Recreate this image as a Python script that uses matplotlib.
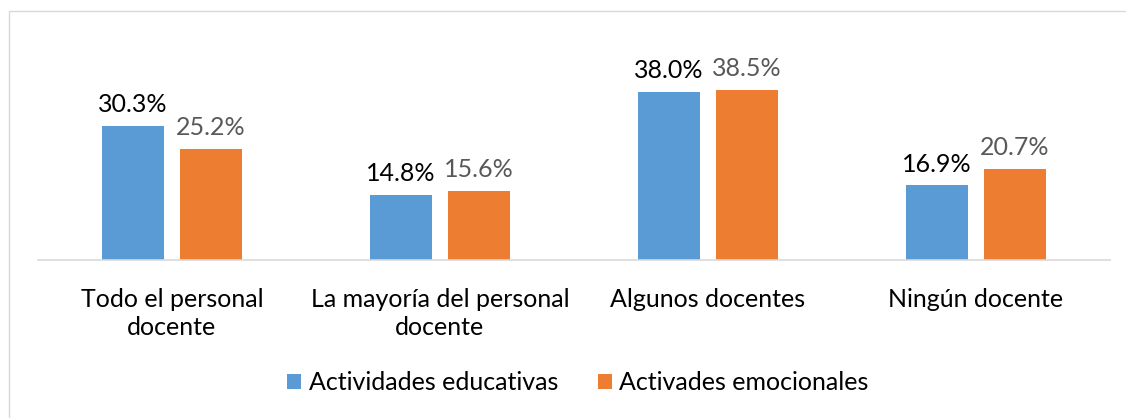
import matplotlib.pyplot as plt
import numpy as np
from matplotlib.patches import Rectangle

categorias = ['Todo el personal\ndocente', 'La mayoría del personal\ndocente',
              'Algunos docentes', 'Ningún docente']
educativas = [30.3, 14.8, 38.0, 16.9]
emocionales = [25.2, 15.6, 38.5, 20.7]
series = ['Actividades educativas', 'Activades emocionales']

plt.rcParams['font.family'] = ['Lato', 'DejaVu Sans']
fs = 18

fig = plt.figure(figsize=(11.26, 4.18), dpi=100)
# thin frame around the chart
fig.patches.append(Rectangle((9 / 1126, -0.01), 1.2, 1 - 11 / 418 + 0.01,
                             transform=fig.transFigure, fill=False,
                             edgecolor='#d9d9d9', linewidth=1))

ax = fig.add_axes([38 / 1126, 1 - 260 / 418, 1072 / 1126, 220 / 418])

x = np.arange(len(categorias))
w = 0.23
gap = 0.03
b1 = ax.bar(x - w / 2 - gap, educativas, w, color='#5B9BD5', label=series[0])
b2 = ax.bar(x + w / 2 + gap, emocionales, w, color='#ED7D31', label=series[1])

for rect, v in zip(b1, educativas):
    ax.text(rect.get_x() + rect.get_width() / 2, v + 2.2, f'{v:.1f}%',
            ha='center', va='bottom', fontsize=fs, color='black')
for rect, v in zip(b2, emocionales):
    ax.text(rect.get_x() + rect.get_width() / 2, v + 2.2, f'{v:.1f}%',
            ha='center', va='bottom', fontsize=fs, color='#595959')

ax.set_xlim(-0.5, len(categorias) - 0.5)
ax.set_ylim(0, 49.8)
ax.set_xticks(x)
ax.set_xticklabels(categorias, fontsize=fs, color='black', linespacing=1.25)
ax.tick_params(axis='x', length=0, pad=20)
ax.set_yticks([])
for s in ['top', 'right', 'left']:
    ax.spines[s].set_visible(False)
ax.spines['bottom'].set_color('#d9d9d9')
ax.spines['bottom'].set_linewidth(1.2)

fig.legend(loc='center', bbox_to_anchor=(578 / 1126, 1 - 383 / 418), ncol=2,
           frameon=False, fontsize=fs, handlelength=0.55, handleheight=0.55,
           handletextpad=0.3, columnspacing=1.6)

fig.savefig('out.png', dpi=100)
